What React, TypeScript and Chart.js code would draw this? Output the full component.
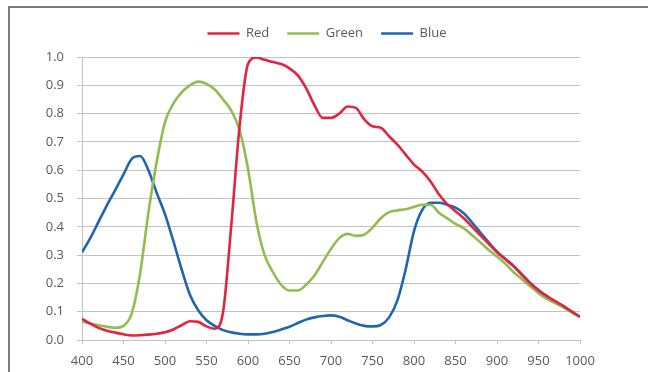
import React, { useEffect, useRef } from "react";
import { Chart, registerables } from "chart.js";

Chart.register(...registerables);

const wavelengths = [
  400, 410, 420, 430, 440, 450, 460, 470, 480, 490,
  500, 510, 520, 530, 540, 550, 560, 570, 580, 590,
  600, 610, 620, 630, 640, 650, 660, 670, 680, 690,
  700, 710, 720, 730, 740, 750, 760, 770, 780, 790,
  800, 810, 820, 830, 840, 850, 860, 870, 880, 890,
  900, 910, 920, 930, 940, 950, 960, 970, 980, 990,
  1000,
];

const redValues = [
  0.075, 0.058, 0.043, 0.033, 0.026, 0.02, 0.016, 0.017, 0.019, 0.022,
  0.027, 0.037, 0.052, 0.066, 0.064, 0.048, 0.04, 0.1, 0.41, 0.76,
  0.975, 0.998, 0.99, 0.982, 0.975, 0.96, 0.935, 0.89, 0.83, 0.785,
  0.785, 0.8, 0.825, 0.82, 0.78, 0.755, 0.75, 0.72, 0.69, 0.655,
  0.62, 0.595, 0.56, 0.515, 0.48, 0.455, 0.43, 0.4, 0.37, 0.34,
  0.31, 0.285, 0.26, 0.23, 0.2, 0.175, 0.155, 0.137, 0.12, 0.1,
  0.082,
];

const greenValues = [
  0.065, 0.058, 0.052, 0.047, 0.043, 0.05, 0.095, 0.235, 0.45, 0.63,
  0.77, 0.835, 0.875, 0.9, 0.913, 0.905, 0.885, 0.85, 0.81, 0.74,
  0.605, 0.42, 0.3, 0.24, 0.195, 0.175, 0.175, 0.195, 0.228, 0.275,
  0.322, 0.36, 0.375, 0.368, 0.372, 0.397, 0.43, 0.452, 0.458, 0.462,
  0.47, 0.478, 0.478, 0.45, 0.43, 0.41, 0.395, 0.37, 0.345, 0.318,
  0.295, 0.27, 0.24, 0.215, 0.19, 0.165, 0.145, 0.13, 0.115, 0.098,
  0.082,
];

const blueValues = [
  0.31, 0.36, 0.418, 0.476, 0.53, 0.585, 0.64, 0.65, 0.6, 0.52,
  0.445, 0.35, 0.25, 0.16, 0.105, 0.07, 0.05, 0.035, 0.027, 0.022,
  0.02, 0.02, 0.022, 0.028, 0.037, 0.047, 0.06, 0.072, 0.08, 0.085,
  0.087, 0.082, 0.07, 0.058, 0.05, 0.048, 0.053, 0.08, 0.14, 0.25,
  0.385, 0.46, 0.485, 0.485, 0.478, 0.468, 0.448, 0.415, 0.38, 0.345,
  0.312, 0.287, 0.262, 0.232, 0.202, 0.177, 0.155, 0.135, 0.12, 0.1,
  0.082,
];

const seriesNames = ["Red", "Green", "Blue"];
const seriesColors = ["#e3243f", "#92bb50", "#1f65b0"];

const FONT = "'Open Sans', 'Liberation Sans', sans-serif";
const TEXT = "#595959";
const GRID = "#c2c2c2";

export default function App() {
  const canvasRef = useRef<HTMLCanvasElement | null>(null);

  useEffect(() => {
    const canvas = canvasRef.current;
    if (!canvas) return;
    const toPoints = (vals: number[]) => wavelengths.map((x, i) => ({ x, y: vals[i] }));
    const all = [redValues, greenValues, blueValues];

    const legendBox = {
      id: "legendBox",
      beforeInit(chart: any) {
        const lg = chart.legend;
        if (!lg) return;
        const orig = lg.fit;
        lg.fit = function () {
          orig.call(this);
          this.height = 48;
        };
      },
      afterLayout(chart: any) {
        const lg = chart.legend;
        if (!lg) return;
        lg.left = 42;
        lg.right = 612;
        lg.width = lg.right - lg.left;
      },
    };

    const chart = new Chart(canvas, {
      type: "line",
      data: {
        datasets: all.map((vals, i) => ({
          label: seriesNames[i],
          data: toPoints(vals),
          borderColor: seriesColors[i],
          backgroundColor: seriesColors[i],
          borderWidth: 2.6,
          pointRadius: 0,
          pointHoverRadius: 0,
          cubicInterpolationMode: "monotone" as const,
          fill: false,
        })),
      },
      options: {
        responsive: false,
        animation: false,
        events: [],
        layout: { padding: { left: 10, right: 68, top: 9, bottom: 2 } },
        plugins: {
          tooltip: { enabled: false },
          legend: {
            position: "top",
            align: "center",
            labels: {
              usePointStyle: true,
              pointStyle: "line",
              pointStyleWidth: 32,
              padding: 18,
              color: TEXT,
              font: { family: FONT, size: 13 },
            },
          },
        },
        scales: {
          x: {
            type: "linear",
            min: 400,
            max: 1000,
            afterFit(scale: any) {
              scale.height = 30;
            },
            ticks: {
              stepSize: 50,
              color: TEXT,
              padding: 9,
              maxRotation: 0,
              font: { family: FONT, size: 13 },
              callback: (v: any) => String(v),
            },
            grid: {
              drawOnChartArea: false,
              drawTicks: true,
              tickLength: 4,
              color: GRID,
            },
            border: { display: true, color: GRID, width: 1 },
          },
          y: {
            min: 0,
            max: 1,
            afterFit(scale: any) {
              scale.width = 72;
            },
            ticks: {
              stepSize: 0.1,
              color: TEXT,
              padding: 13,
              font: { family: FONT, size: 13 },
              callback: (v: any) => Number(v).toFixed(1),
            },
            grid: {
              color: GRID,
              lineWidth: 1,
              tickLength: 5,
            },
            border: { display: true, color: GRID, width: 1 },
          },
        },
      },
      plugins: [legendBox],
    });
    return () => chart.destroy();
  }, []);

  return (
    <div style={{ position: "fixed", left: 0, top: 0, width: 648, height: 372, background: "#ffffff", overflow: "hidden" }}>
      <canvas ref={canvasRef} width={648} height={372} style={{ display: "block", width: 648, height: 372 }} />
      <div
        style={{
          position: "absolute",
          left: 8,
          top: 6,
          width: 660,
          height: 400,
          borderTop: "2px solid #7c7c7c",
          borderLeft: "2px solid #7c7c7c",
          pointerEvents: "none",
        }}
      />
    </div>
  );
}
